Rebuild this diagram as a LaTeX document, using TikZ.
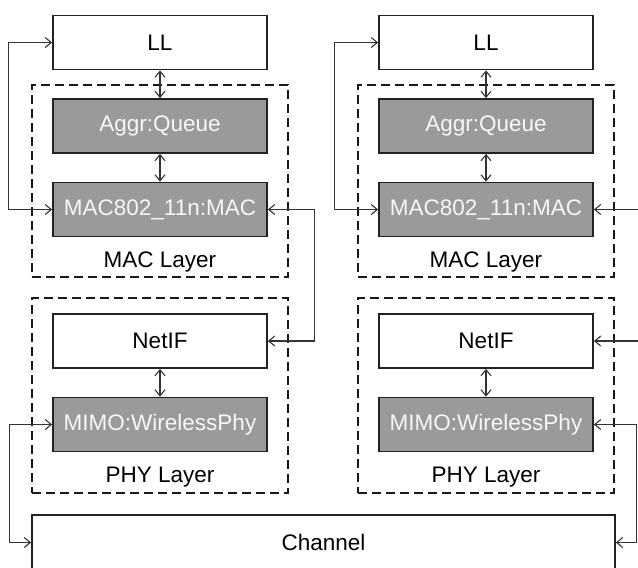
\documentclass[tikz,border=0pt]{standalone}
\usepackage{fontspec}
\setmainfont{Liberation Sans}
\usetikzlibrary{arrows.meta}
\definecolor{boxgray}{HTML}{9A9A9A}
\definecolor{edgedark}{HTML}{222222}
\definecolor{conncol}{HTML}{333333}
\begin{document}
\begin{tikzpicture}[x=1pt,y=-1pt,
  every node/.style={font=\fontsize{22.5}{26}\selectfont},
  plainbox/.style={draw=edgedark, line width=1.8pt, fill=white, minimum width=214pt, minimum height=54pt, inner sep=0pt},
  graybox/.style={plainbox, fill=boxgray, text=white!97!black},
  layerbox/.style={draw=black!90, line width=1.6pt, dash pattern=on 9pt off 5pt, minimum width=256pt, inner sep=0pt},
  conn/.style={draw=conncol, line width=1.1pt, arrows={Straight Barb[length=6pt,width=10pt]-Straight Barb[length=6pt,width=10pt]}},
  connin/.style={draw=conncol, line width=1.1pt, arrows={Straight Barb[length=6pt,width=10pt]-}}
]
\useasboundingbox (0,0) rectangle (638,568);
% dashed layer boxes
\foreach \dx/\s in {0/1,326/2}{
  \node[layerbox, minimum height=192pt] (macL\s) at (160+\dx,181) {};
  \node[layerbox, minimum height=195pt] (phyL\s) at (160+\dx,395.5) {};
  \node (macT\s) at (160+\dx,262) {MAC Layer};
  \node (phyT\s) at (160+\dx,477) {PHY Layer};
  \node[plainbox] (ll\s) at (160+\dx,42.5) {LL};
  \node[graybox] (aggr\s) at (160+\dx,126) {Aggr:Queue};
  \node[graybox] (mac\s) at (160+\dx,209.5) {MAC802\_11n:MAC};
  \node[plainbox] (net\s) at (160+\dx,341) {NetIF};
  \node[graybox] (mimo\s) at (160+\dx,424.5) {MIMO:WirelessPhy};
  \draw[conn] (ll\s.south) -- (aggr\s.north);
  \draw[conn] (aggr\s.south) -- (mac\s.north);
  \draw[conn] (net\s.south) -- (mimo\s.north);
  \draw[conn] (ll\s.west) -- ++(-44,0) |- (mac\s.west);
}
\node[plainbox, minimum width=583pt, minimum height=55pt] (chan) at (323.5,542.5) {Channel};
% connectors
\draw[conn] (mac1.east) -- ++(47,0) |- (net1.east);
\coordinate (r1) at (640,209.5);
\coordinate (r2) at (640,341);
\draw[connin] (mac2.east) -- (r1);
\draw[connin] (net2.east) -- (r2);
\draw[conn] (mimo1.west) -- ++(-43,0) |- (chan.west);
\draw[conn] (mimo2.east) -- ++(43,0) |- (chan.east);
\end{tikzpicture}
\end{document}
